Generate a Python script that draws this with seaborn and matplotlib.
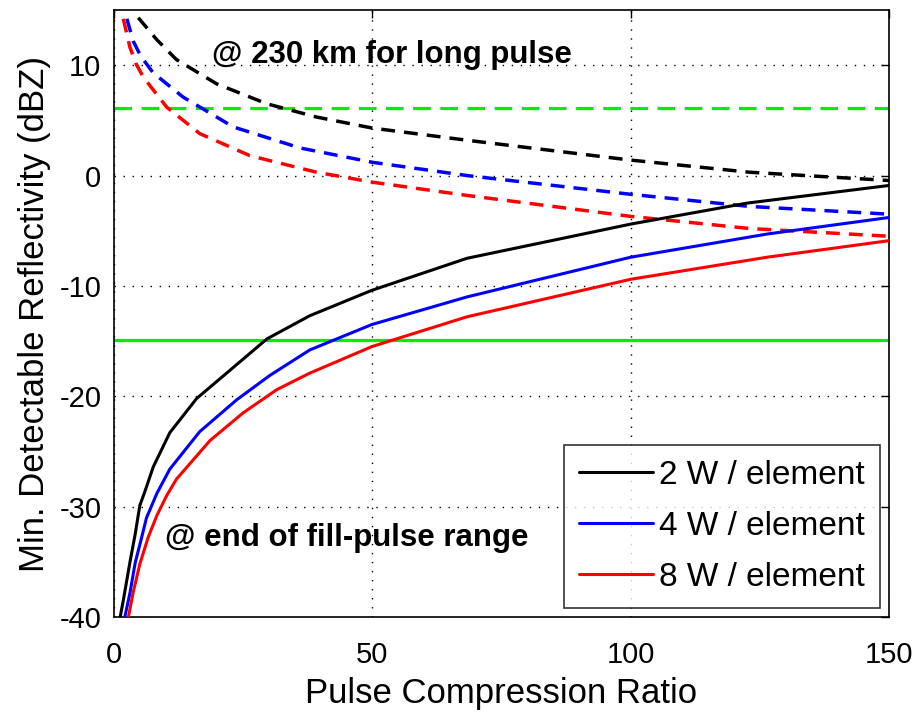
import numpy as np
import pandas as pd
import matplotlib
matplotlib.use("Agg")
import matplotlib.pyplot as plt
import seaborn as sns

# values (x = pulse compression ratio, y = dBZ)
x_2w_fill = [1.2, 1.8, 3.1, 4.1, 5.0, 6.0, 7.6, 10.8, 16.0, 21.8, 29.6, 37.9, 49.9, 68.3, 100.0, 122.5, 150.0]
z_2w_fill = [-40.0, -38.5, -35.0, -32.5, -29.9, -28.6, -26.4, -23.3, -20.2, -17.9, -14.8, -12.7, -10.4, -7.5, -4.4, -2.5, -0.9]

x_4w_fill = [2.1, 3.1, 4.1, 5.4, 6.3, 8.3, 10.8, 16.6, 23.8, 30.2, 37.9, 49.9, 68.3, 100.0, 126.4, 150.0]
z_4w_fill = [-40.0, -37.8, -35.1, -32.7, -31.0, -28.8, -26.6, -23.2, -20.3, -18.1, -15.8, -13.5, -11.0, -7.4, -5.3, -3.8]

x_8w_fill = [2.8, 3.7, 5.0, 6.6, 8.3, 10.2, 12.1, 18.6, 25.0, 31.5, 37.9, 49.9, 68.3, 100.0, 126.4, 150.0]
z_8w_fill = [-40.0, -37.8, -35.2, -32.8, -30.8, -29.0, -27.5, -24.0, -21.5, -19.4, -17.9, -15.5, -12.8, -9.4, -7.4, -5.9]

x_2w_long = [4.7, 8.3, 12.1, 19.9, 29.6, 39.2, 50.0, 68.3, 100.0, 123.0, 150.0]
z_2w_long = [14.3, 12.3, 10.5, 8.3, 6.5, 5.3, 4.3, 3.2, 1.4, 0.3, -0.45]

x_4w_long = [2.5, 3.7, 5.2, 7.6, 13.4, 23.1, 36.0, 50.0, 68.3, 100.0, 123.0, 150.0]
z_4w_long = [14.2, 12.2, 10.8, 9.3, 7.1, 4.4, 2.5, 1.2, 0.0, -1.7, -2.8, -3.5]

x_8w_long = [1.8, 3.1, 4.3, 5.7, 10.2, 16.6, 26.3, 39.2, 50.0, 68.3, 100.0, 123.0, 150.0]
z_8w_long = [14.2, 11.6, 10.1, 8.9, 6.2, 3.8, 1.8, 0.3, -0.6, -1.8, -3.7, -4.8, -5.5]

thresh_long = 6.1
thresh_fill = -14.9

labels = ["2 W / element", "4 W / element", "8 W / element"]
colors = ["black", "blue", "red"]

sns.set_style("white")
plt.rcParams["font.family"] = ["Liberation Sans", "DejaVu Sans"]
plt.rcParams["axes.unicode_minus"] = False
for k in ["text.color", "axes.labelcolor", "xtick.color", "ytick.color"]:
    plt.rcParams[k] = "black"

fig = plt.figure(figsize=(9.17, 7.13), dpi=100)
ax = fig.add_axes([0.1243, 0.1346, 0.8452, 0.8514])

fill = [(x_2w_fill, z_2w_fill), (x_4w_fill, z_4w_fill), (x_8w_fill, z_8w_fill)]
longp = [(x_2w_long, z_2w_long), (x_4w_long, z_4w_long), (x_8w_long, z_8w_long)]

ax.axhline(thresh_long, color="#00ee00", lw=2.3, linestyle=(0, (5.5, 3)), zorder=1)
ax.axhline(thresh_fill, color="#00ee00", lw=2.3, zorder=1)

for (xs, zs), c in zip(longp, colors):
    sns.lineplot(x=xs, y=zs, ax=ax, color=c, lw=2.5, zorder=2,
                 linestyle=(0, (4, 2.6)))
for (xs, zs), c, lab in zip(fill, colors, labels):
    sns.lineplot(x=xs, y=zs, ax=ax, color=c, lw=2.2, label=lab, zorder=3)

ax.set_xlim(0, 150)
ax.set_ylim(-40, 15)
ax.set_xticks([0, 50, 100, 150])
ax.set_yticks([-40, -30, -20, -10, 0, 10])
ax.grid(True, color="black", linestyle=(0, (1, 5.5)), lw=1.0)
ax.tick_params(direction="in", length=6, width=1, top=True, right=True,
               labelsize=21, colors="black")
ax.tick_params(axis="x", pad=17)
ax.tick_params(axis="y", pad=9)
for s in ax.spines.values():
    s.set_color("black")
    s.set_linewidth(1.2)

ax.set_xlabel("Pulse Compression Ratio", fontsize=25, labelpad=6)
ax.set_ylabel("Min. Detectable Reflectivity (dBZ)", fontsize=25, labelpad=6)

ax.text(19, 10.9, "@ 230 km for long pulse", fontsize=22.5, fontweight="bold",
        va="center", ha="left")
ax.text(9.9, -32.8, "@ end of fill-pulse range", fontsize=22.5, fontweight="bold",
        va="center", ha="left")

leg = ax.legend(loc="lower right", fontsize=24, frameon=True, fancybox=False,
                edgecolor="black", handlelength=2.2, handletextpad=0.2,
                borderaxespad=0.27, labelspacing=0.6, borderpad=0.45)
leg.get_frame().set_linewidth(1.2)

fig.savefig("out.png", dpi=100)
